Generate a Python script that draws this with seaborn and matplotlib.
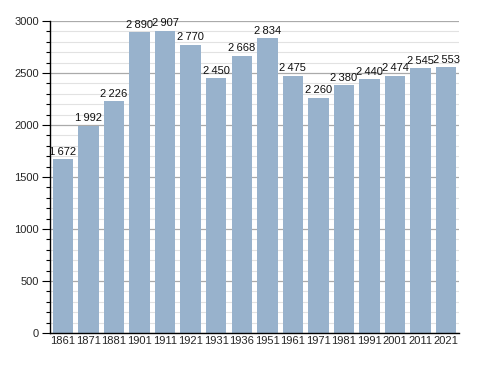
import matplotlib
matplotlib.use("Agg")
import matplotlib.pyplot as plt
import seaborn as sns
import pandas as pd
from matplotlib.ticker import MultipleLocator

years = ["1861", "1871", "1881", "1901", "1911", "1921", "1931", "1936",
         "1951", "1961", "1971", "1981", "1991", "2001", "2011", "2021"]
population = [1672, 1992, 2226, 2890, 2907, 2770, 2450, 2668,
              2834, 2475, 2260, 2380, 2440, 2474, 2545, 2553]

df = pd.DataFrame({"year": years, "pop": population})

sns.set_theme(style="white")
plt.rcParams["font.family"] = ["Liberation Sans", "DejaVu Sans"]

fig = plt.figure(figsize=(4.88, 3.73), dpi=100)
ax = fig.add_axes([0.1025, 0.1072, 0.8381, 0.8365])

ax.set_axisbelow(True)
ax.yaxis.set_major_locator(MultipleLocator(500))
ax.yaxis.set_minor_locator(MultipleLocator(100))
ax.grid(which="major", axis="y", color="#aaaaaa", linewidth=0.9)
ax.grid(which="minor", axis="y", color="#e2e2e2", linewidth=0.8)

sns.barplot(data=df, x="year", y="pop", color="#98b2cc", saturation=1,
            width=0.8, linewidth=0, edgecolor="none", ax=ax)

for i, v in enumerate(population):
    ax.text(i, v + 25, f"{v:,}".replace(",", "\u2009"), ha="center", va="bottom",
            fontsize=8, color="#111111")

ax.set_ylim(0, 3000)
ax.set_xlim(-0.5, len(years) - 0.5)
ax.set_xlabel("")
ax.set_ylabel("")
for s in ["top", "right"]:
    ax.spines[s].set_visible(False)
ax.spines["left"].set_color("black")
ax.spines["bottom"].set_color("black")
ax.spines["left"].set_linewidth(1)
ax.spines["bottom"].set_linewidth(1)
ax.tick_params(axis="y", which="major", length=6, width=0.8, color="black",
               labelsize=8, pad=2, left=True)
ax.tick_params(axis="y", which="minor", length=3, width=0.8, color="black", left=True)
ax.tick_params(axis="x", length=0, labelsize=8, pad=2)

fig.savefig("out.png", dpi=100)
